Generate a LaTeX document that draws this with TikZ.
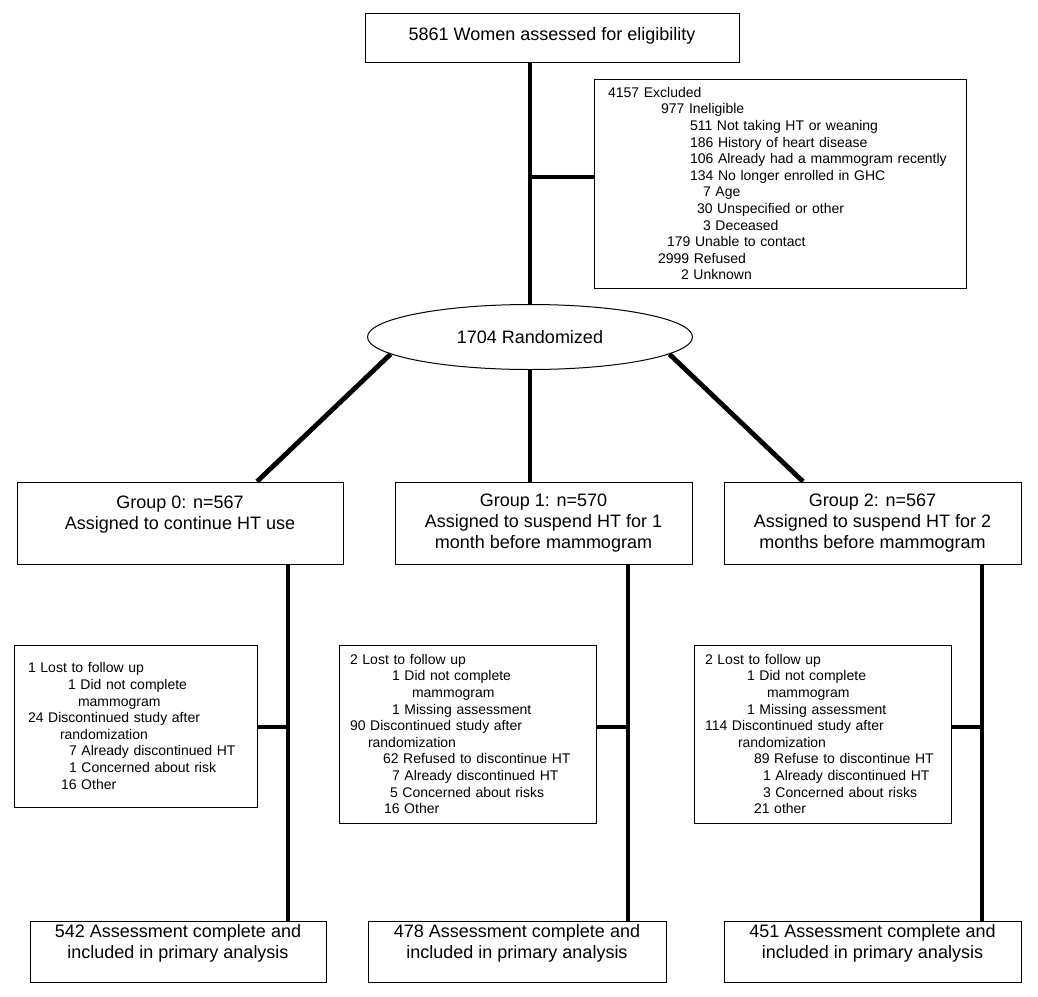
\documentclass[tikz,border=0pt]{standalone}
\usepackage{fontspec}
\setmainfont{Liberation Sans}
\usetikzlibrary{shapes.geometric}
\usetikzlibrary{calc}

\newlength{\px}
\setlength{\px}{0.75pt}
\newcommand{\indt}[1]{\hspace*{#1\px}}

\begin{document}
\begin{tikzpicture}[x=0.75pt, y=-0.75pt, line width=0.75pt,
	flow/.style={line width=3.6pt},
	bigbox/.style={rectangle, draw, align=center, inner sep=0pt,
				font=\fontsize{13.5}{15.75}\selectfont},
	listbox/.style={rectangle, draw, align=left, inner ysep=0pt,
				font=\fontsize{10.5}{12.45}\selectfont},
	rand/.style={ellipse, draw, inner sep=0pt, minimum width=325\px,
				minimum height=65\px, font=\fontsize{13.5}{15.75}\selectfont},
]
\useasboundingbox (0,0) rectangle (1038,996);
%
\node [bigbox, minimum width=374\px, minimum height=49\px, text depth=8\px] (W) at (552,38)
	{5861 Women assessed for eligibility};
\node [listbox, inner xsep=14\px, text width=344\px, minimum height=209\px] (E) at (780,183.5)
	{4157 Excluded\\
	\indt{53}977 Ineligible\\
	\indt{82}511 Not taking HT or weaning\\
	\indt{82}186 History of heart disease\\
	\indt{82}106 Already had a mammogram recently\\
	\indt{82}134 No longer enrolled in GHC\\
	\indt{95}7 Age\\
	\indt{89}30 Unspecified or other\\
	\indt{95}3 Deceased\\
	\indt{59}179 Unable to contact\\
	\indt{50}2999 Refused\\
	\indt{73}2 Unknown};
\node [rand] (R) at (530,337) {1704 Randomized};
%
\node [bigbox, minimum width=326\px, minimum height=82\px] (G0) at (180,523)
	{Group 0: n=567\\Assigned to continue HT use\\\mbox{}};
\node [bigbox, minimum width=297\px, minimum height=82\px] (G1) at (543.5,523)
	{Group 1: n=570\\Assigned to suspend HT for 1\\month before mammogram};
\node [bigbox, minimum width=297\px, minimum height=82\px] (G2) at (872.5,523)
	{Group 2: n=567\\Assigned to suspend HT for 2\\months before mammogram};
%
\node [listbox, inner xsep=14\px, text width=215\px, minimum height=162\px] (L0) at (135.5,726)
	{1 Lost to follow up\\
	\indt{40}1 Did not complete\\
	\indt{50}mammogram\\
	24 Discontinued study after\\
	\indt{32}randomization\\
	\indt{41}7 Already discontinued HT\\
	\indt{41}1 Concerned about risk\\
	\indt{33}16 Other};
\node [listbox, inner xsep=11\px, text width=235\px, minimum height=178\px] (L1) at (467.5,734)
	{2 Lost to follow up\\
	\indt{42}1 Did not complete\\
	\indt{62}mammogram\\
	\indt{42}1 Missing assessment\\
	90 Discontinued study after\\
	\indt{18}randomization\\
	\indt{33}62 Refused to discontinue HT\\
	\indt{42}7 Already discontinued HT\\
	\indt{40}5 Concerned about risks\\
	\indt{34}16 Other};
\node [listbox, inner xsep=11\px, text width=235\px, minimum height=178\px] (L2) at (822.5,734)
	{2 Lost to follow up\\
	\indt{42}1 Did not complete\\
	\indt{62}mammogram\\
	\indt{42}1 Missing assessment\\
	114 Discontinued study after\\
	\indt{33}randomization\\
	\indt{49}89 Refuse to discontinue HT\\
	\indt{58}1 Already discontinued HT\\
	\indt{58}3 Concerned about risks\\
	\indt{49}21 other};
%
\node [bigbox, minimum width=296\px, minimum height=61\px] (A0) at (178,951.5)
	{542 Assessment complete and\\included in primary analysis\\\mbox{}};
\node [bigbox, minimum width=298\px, minimum height=61\px] (A1) at (517,951.5)
	{478 Assessment complete and\\included in primary analysis\\\mbox{}};
\node [bigbox, minimum width=297\px, minimum height=61\px] (A2) at (872.5,951.5)
	{451 Assessment complete and\\included in primary analysis\\\mbox{}};
%
\coordinate (J) at (530,177);
\coordinate (V0) at (288,727);
\coordinate (V1) at (628,727);
\coordinate (V2) at (982,727);
%
\draw [flow] (W.south -| R) -- (R.north);
\draw [flow] (J) -- (E.west |- J);
\draw [flow] (R.187) -- ($(G0.north)+(77,0)$);
\draw [flow] (R.south) -- (R.south |- G1.north);
\draw [flow] (R.-7) -- ($(G2.north)+(-69.5,0)$);
%
\draw [flow] (V0 |- G0.south) -- (V0 |- A0.north);
\draw [flow] (V1 |- G1.south) -- (V1 |- A1.north);
\draw [flow] (V2 |- G2.south) -- (V2 |- A2.north);
\draw [flow] (L0.east |- V0) -- (V0);
\draw [flow] (L1.east |- V1) -- (V1);
\draw [flow] (L2.east |- V2) -- (V2);
\end{tikzpicture}
\end{document}
